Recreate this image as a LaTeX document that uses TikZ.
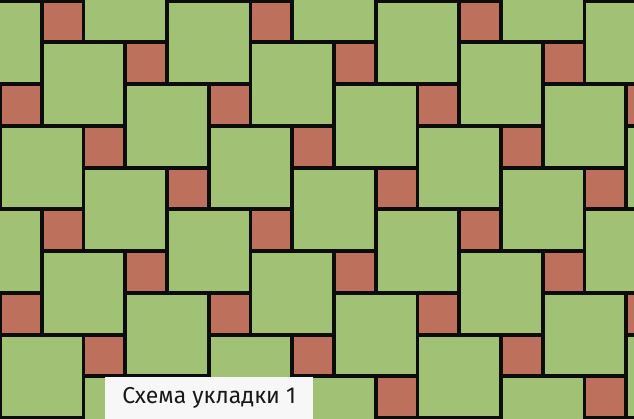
\documentclass[tikz,border=0pt]{standalone}
\usepackage{fontspec}
\setmainfont{Fira Sans}
\definecolor{tilegreen}{RGB}{161,193,116}
\definecolor{tilered}{RGB}{189,112,92}
\definecolor{jointblack}{RGB}{12,12,10}
\tikzset{bigtile/.style={fill=tilegreen}, smalltile/.style={fill=tilered},
  caption/.style={fill=white!97!black, text=black!90, inner sep=0pt,
    minimum width=208pt, minimum height=42pt, font=\fontsize{23}{26}\selectfont}}
\begin{document}
\begin{tikzpicture}[x=1pt,y=-1pt]
\useasboundingbox (0,0) rectangle (634,419);
\fill[jointblack] (0,0) rectangle (634,419);
\begin{scope}
\clip (0,0) rectangle (634,419);
% big green slabs with the small red ones beside them
\foreach \i in {-3,...,9}{
  \foreach \j in {-5,...,5}{
    \pgfmathsetmacro\px{43.7+83.5*\i-41.75*\j}
    \pgfmathsetmacro\py{44.3+41.75*\i+83.5*\j}
    \fill[bigtile] (\px,\py) rectangle ++(79.6,79.6);
    \fill[smalltile] (\px+83.5,\py) rectangle ++(37.9,37.9);
  }}
\end{scope}
\node[caption, anchor=north west] (title) at (105,377) {Схема укладки 1};
\end{tikzpicture}
\end{document}
